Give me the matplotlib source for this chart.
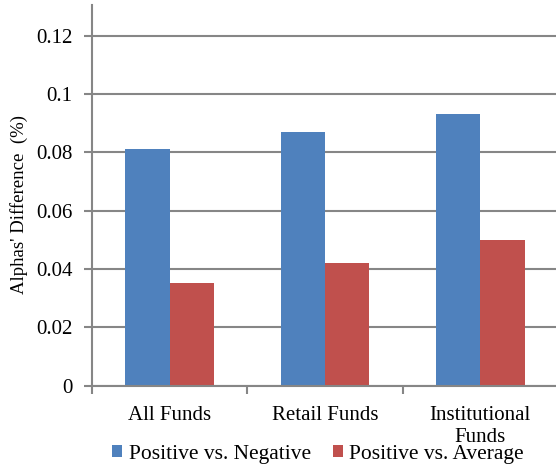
#!/bin/python3

"""
Alphas' difference by fund type, Excel-style clustered bars.
"""

import matplotlib.pyplot as plt
from matplotlib.patches import Patch

CATEGORIES = ["All Funds", "Retail Funds", "Institutional\nFunds"]
POS_VS_NEG = [0.081, 0.087, 0.093]
POS_VS_AVG = [0.035, 0.042, 0.050]
SERIES_LABELS = ["Positive vs. Negative", "Positive vs. Average"]
Y_TICKS = [0, 0.02, 0.04, 0.06, 0.08, 0.1, 0.12]
Y_TICK_LABELS = ["0", "0.02", "0.04", "0.06", "0.08", "0.1", "0.12"]

COLORS = ["#4F81BD", "#C0504D"]
GRID_COLOR = "#868686"
BAR_WIDTH = 1 / 3.5  # Excel gap width 150%


def main() -> None:
    plt.rcParams.update({
        "font.family": ["Liberation Serif", "DejaVu Serif"],
        "font.size": 15,
    })
    fig = plt.figure(figsize=(5.56, 4.66), dpi=100)
    ax = fig.add_axes([92 / 556, 0.1727, 466 / 556, 0.8166])

    xs = range(len(CATEGORIES))
    for i, (vals, color) in enumerate(zip([POS_VS_NEG, POS_VS_AVG], COLORS)):
        offs = (i - 0.5) * BAR_WIDTH
        ax.bar([x + offs for x in xs], vals, width=BAR_WIDTH,
               color=color, zorder=3)

    ax.set_xlim(-0.5, len(CATEGORIES) - 0.5)
    ax.set_ylim(0, 0.1305)
    ax.set_yticks(Y_TICKS, Y_TICK_LABELS)
    ax.set_xticks(list(xs), CATEGORIES, va="top")
    ax.set_xticks([x - 0.5 for x in range(len(CATEGORIES) + 1)], minor=True)
    ax.tick_params(axis="x", which="major", length=0, pad=15)
    ax.tick_params(axis="x", which="minor", length=6, width=1.5, color=GRID_COLOR)
    ax.tick_params(axis="y", length=6, width=1.5, color=GRID_COLOR, pad=8)
    ax.yaxis.grid(True, color=GRID_COLOR, linewidth=1.5, zorder=0)
    for side in ("top", "right"):
        ax.spines[side].set_visible(False)
    for side in ("left", "bottom"):
        ax.spines[side].set_color(GRID_COLOR)
        ax.spines[side].set_linewidth(1.5)
    ax.spines["bottom"].set_zorder(4)

    fig.text(19 / 556, 1 - 204 / 466, "Alphas' Difference  (%)",
             rotation=90, ha="center", va="center", fontsize=13.5)

    handles = [Patch(facecolor=c, edgecolor="none") for c in COLORS]
    fig.legend(handles, SERIES_LABELS, loc="center", ncols=2,
               bbox_to_anchor=(0.572, 1 - 454 / 466), frameon=False,
               handlelength=0.48, handleheight=0.48, handletextpad=0.3,
               columnspacing=1.0, borderpad=0, fontsize=15.5)

    fig.savefig("out.png", dpi=100)


if __name__ == "__main__":
    main()
